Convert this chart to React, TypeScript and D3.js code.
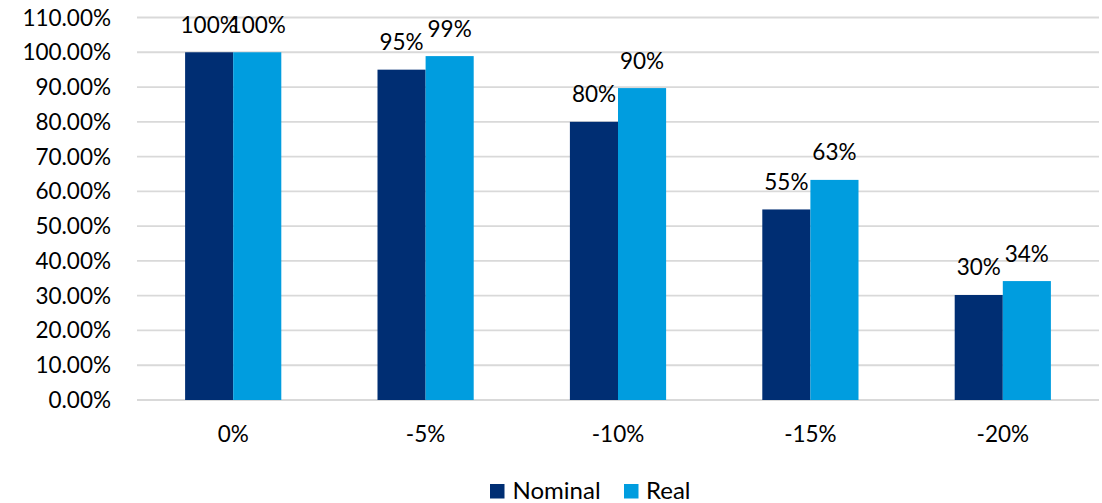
import React from "react";
import * as d3 from "d3";

const categories = ["0%", "-5%", "-10%", "-15%", "-20%"];
const nominal = [1.0, 0.95, 0.8, 0.548, 0.302];
const real = [1.0, 0.989, 0.897, 0.633, 0.342];
const yTicks = [0, 0.1, 0.2, 0.3, 0.4, 0.5, 0.6, 0.7, 0.8, 0.9, 1.0, 1.1];
const seriesNames = ["Nominal", "Real"];
const seriesColors = ["#002E73", "#009DDF"];

const W = 1102;
const H = 503;
const left = 137;
const right = 1099;
const top = 17.5;
const bottom = 400;
const FONT = "Lato, 'Open Sans', sans-serif";

export default function App() {
  const x = d3.scaleBand<string>().domain(categories).range([left, right]).padding(0);
  const inner = d3
    .scaleBand<string>()
    .domain(seriesNames)
    .range([x.bandwidth() * 0.25, x.bandwidth() * 0.75])
    .padding(0);
  const y = d3.scaleLinear().domain([0, 1.1]).range([bottom, top]);
  const series = [nominal, real];
  const pct0 = d3.format(".0%");
  const pct2 = d3.format(".2%");

  return (
    <svg
      width={W}
      height={H}
      style={{ position: "absolute", left: 0, top: 0, background: "#fff" }}
      fontFamily={FONT}
    >
      {yTicks.map((t) => (
        <g key={t}>
          <line x1={left} x2={right} y1={y(t)} y2={y(t)} stroke="#D9D9D9" strokeWidth={1.8} />
          <text x={111} y={y(t) + 8} textAnchor="end" fontSize={22.5} fill="#000">
            {pct2(t)}
          </text>
        </g>
      ))}
      {categories.map((c, i) => (
        <g key={c} transform={`translate(${x(c)},0)`}>
          {seriesNames.map((s, j) => {
            const v = series[j][i];
            const bx = inner(s)!;
            const bw = inner.bandwidth();
            return (
              <g key={s}>
                <rect x={bx} y={y(v)} width={bw} height={y(0) - y(v)} fill={seriesColors[j]} />
                <text x={bx + bw / 2} y={y(v) - 19.5} textAnchor="middle" fontSize={22.5} fill="#000">
                  {pct0(v)}
                </text>
              </g>
            );
          })}
          <text x={x.bandwidth() / 2} y={442} textAnchor="middle" fontSize={22.5} fill="#000">
            {c}
          </text>
        </g>
      ))}
      <g>
        <rect x={490} y={484} width={14.5} height={14.5} fill={seriesColors[0]} />
        <text x={512.5} y={498.5} fontSize={24} fill="#000">
          {seriesNames[0]}
        </text>
        <rect x={624} y={484} width={14.5} height={14.5} fill={seriesColors[1]} />
        <text x={646} y={498.5} fontSize={24} fill="#000">
          {seriesNames[1]}
        </text>
      </g>
    </svg>
  );
}
